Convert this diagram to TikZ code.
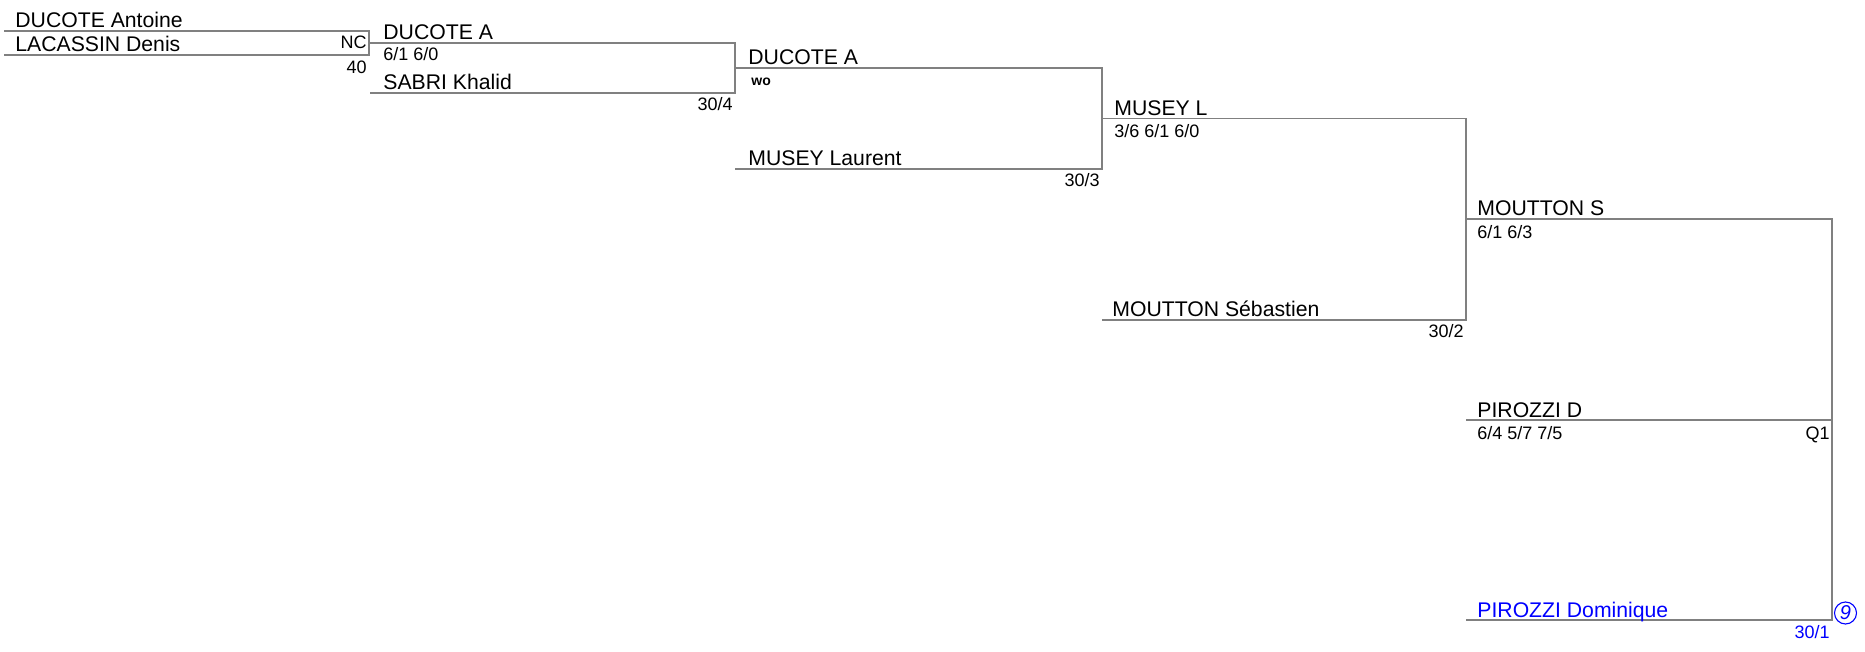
\documentclass[tikz,border=0pt]{standalone}
\usepackage{fontspec}
\setmainfont{Liberation Sans}
\definecolor{linegray}{RGB}{128,128,128}
\begin{document}
\begin{tikzpicture}[
          x=0.5pt, y=-0.5pt,
          line/.style={draw=linegray, line width=0.6pt},
          player/.style={anchor=base west, inner sep=0pt, font=\fontsize{10.6}{12}\selectfont},
          score/.style={anchor=base west, inner sep=0pt, font=\fontsize{9}{11}\selectfont},
          rank/.style={anchor=base east, inner sep=0pt, font=\fontsize{9}{11}\selectfont},
          seed/.style={draw=blue, text=blue, circle, line width=0.55pt, inner sep=0pt,
            minimum size=11pt, font=\fontsize{10}{11}\selectfont\itshape},
        ]
          \useasboundingbox (0,0) rectangle (1865,652);

          % Bracket corners
          \coordinate (t1) at (4,31);
          \coordinate (b1) at (4,55);
          \coordinate (j1) at (369,43);
          \coordinate (b2) at (370,93);
          \coordinate (j2) at (735,68);
          \coordinate (b3) at (735,169);
          \coordinate (j3) at (1102,118.5);
          \coordinate (b4) at (1102,320);
          \coordinate (j4) at (1466,219);
          \coordinate (b5) at (1466,620);
          \coordinate (j5) at (1832,420);
          \coordinate (w5) at (1466,420);

          % Lines
          \draw[line] (t1) -| (j1) |- (b1);
          \draw[line] (j1) -| (j2) |- (b2);
          \draw[line] (j2) -| (j3) |- (b3);
          \draw[line] (j3) -| (j4) |- (b4);
          \draw[line] (j4) -| (j5) |- (b5);
          \draw[line] (w5) -- (j5);

          % Round 1
          \node[player] (p11) at (15,28) {DUCOTE Antoine};
          \node[rank] (r11) at (367,49) {NC};
          \node[player] (p12) at (15,52) {LACASSIN Denis};
          \node[rank] (r12) at (367,74) {40};

          % Round 2
          \node[player] (p21) at (383,40) {DUCOTE A};
          \node[score] (s21) at (383,61) {6/1 6/0};
          \node[player] (p22) at (383,90) {SABRI Khalid};
          \node[rank] (r22) at (733,111) {30/4};

          % Round 3
          \node[player] (p31) at (748,65) {DUCOTE A};
          \node[score, font=\fontsize{7}{8}\selectfont\bfseries] (s31) at (751,86) {wo};
          \node[player] (p32) at (748,166) {MUSEY Laurent};
          \node[rank] (r32) at (1100,187) {30/3};

          % Round 4
          \node[player] (p41) at (1114,116) {MUSEY L};
          \node[score] (s41) at (1114,138) {3/6 6/1 6/0};
          \node[player] (p42) at (1112,317) {MOUTTON Sébastien};
          \node[rank] (r42) at (1464,338) {30/2};

          % Round 5
          \node[player] (p51) at (1477,216) {MOUTTON S};
          \node[score] (s51) at (1477,239) {6/1 6/3};
          \node[player] (p52) at (1477,417) {PIROZZI D};
          \node[score] (s52) at (1477,439) {6/4 5/7 7/5};
          \node[rank] (r52) at (1830,439) {Q1};
          \node[player, text=blue] (p53) at (1477,617) {PIROZZI Dominique};
          \node[rank, text=blue] (r53) at (1830,638) {30/1};
          \node[seed] (q53) at (1845.5,613) {9};
        \end{tikzpicture}
\end{document}
